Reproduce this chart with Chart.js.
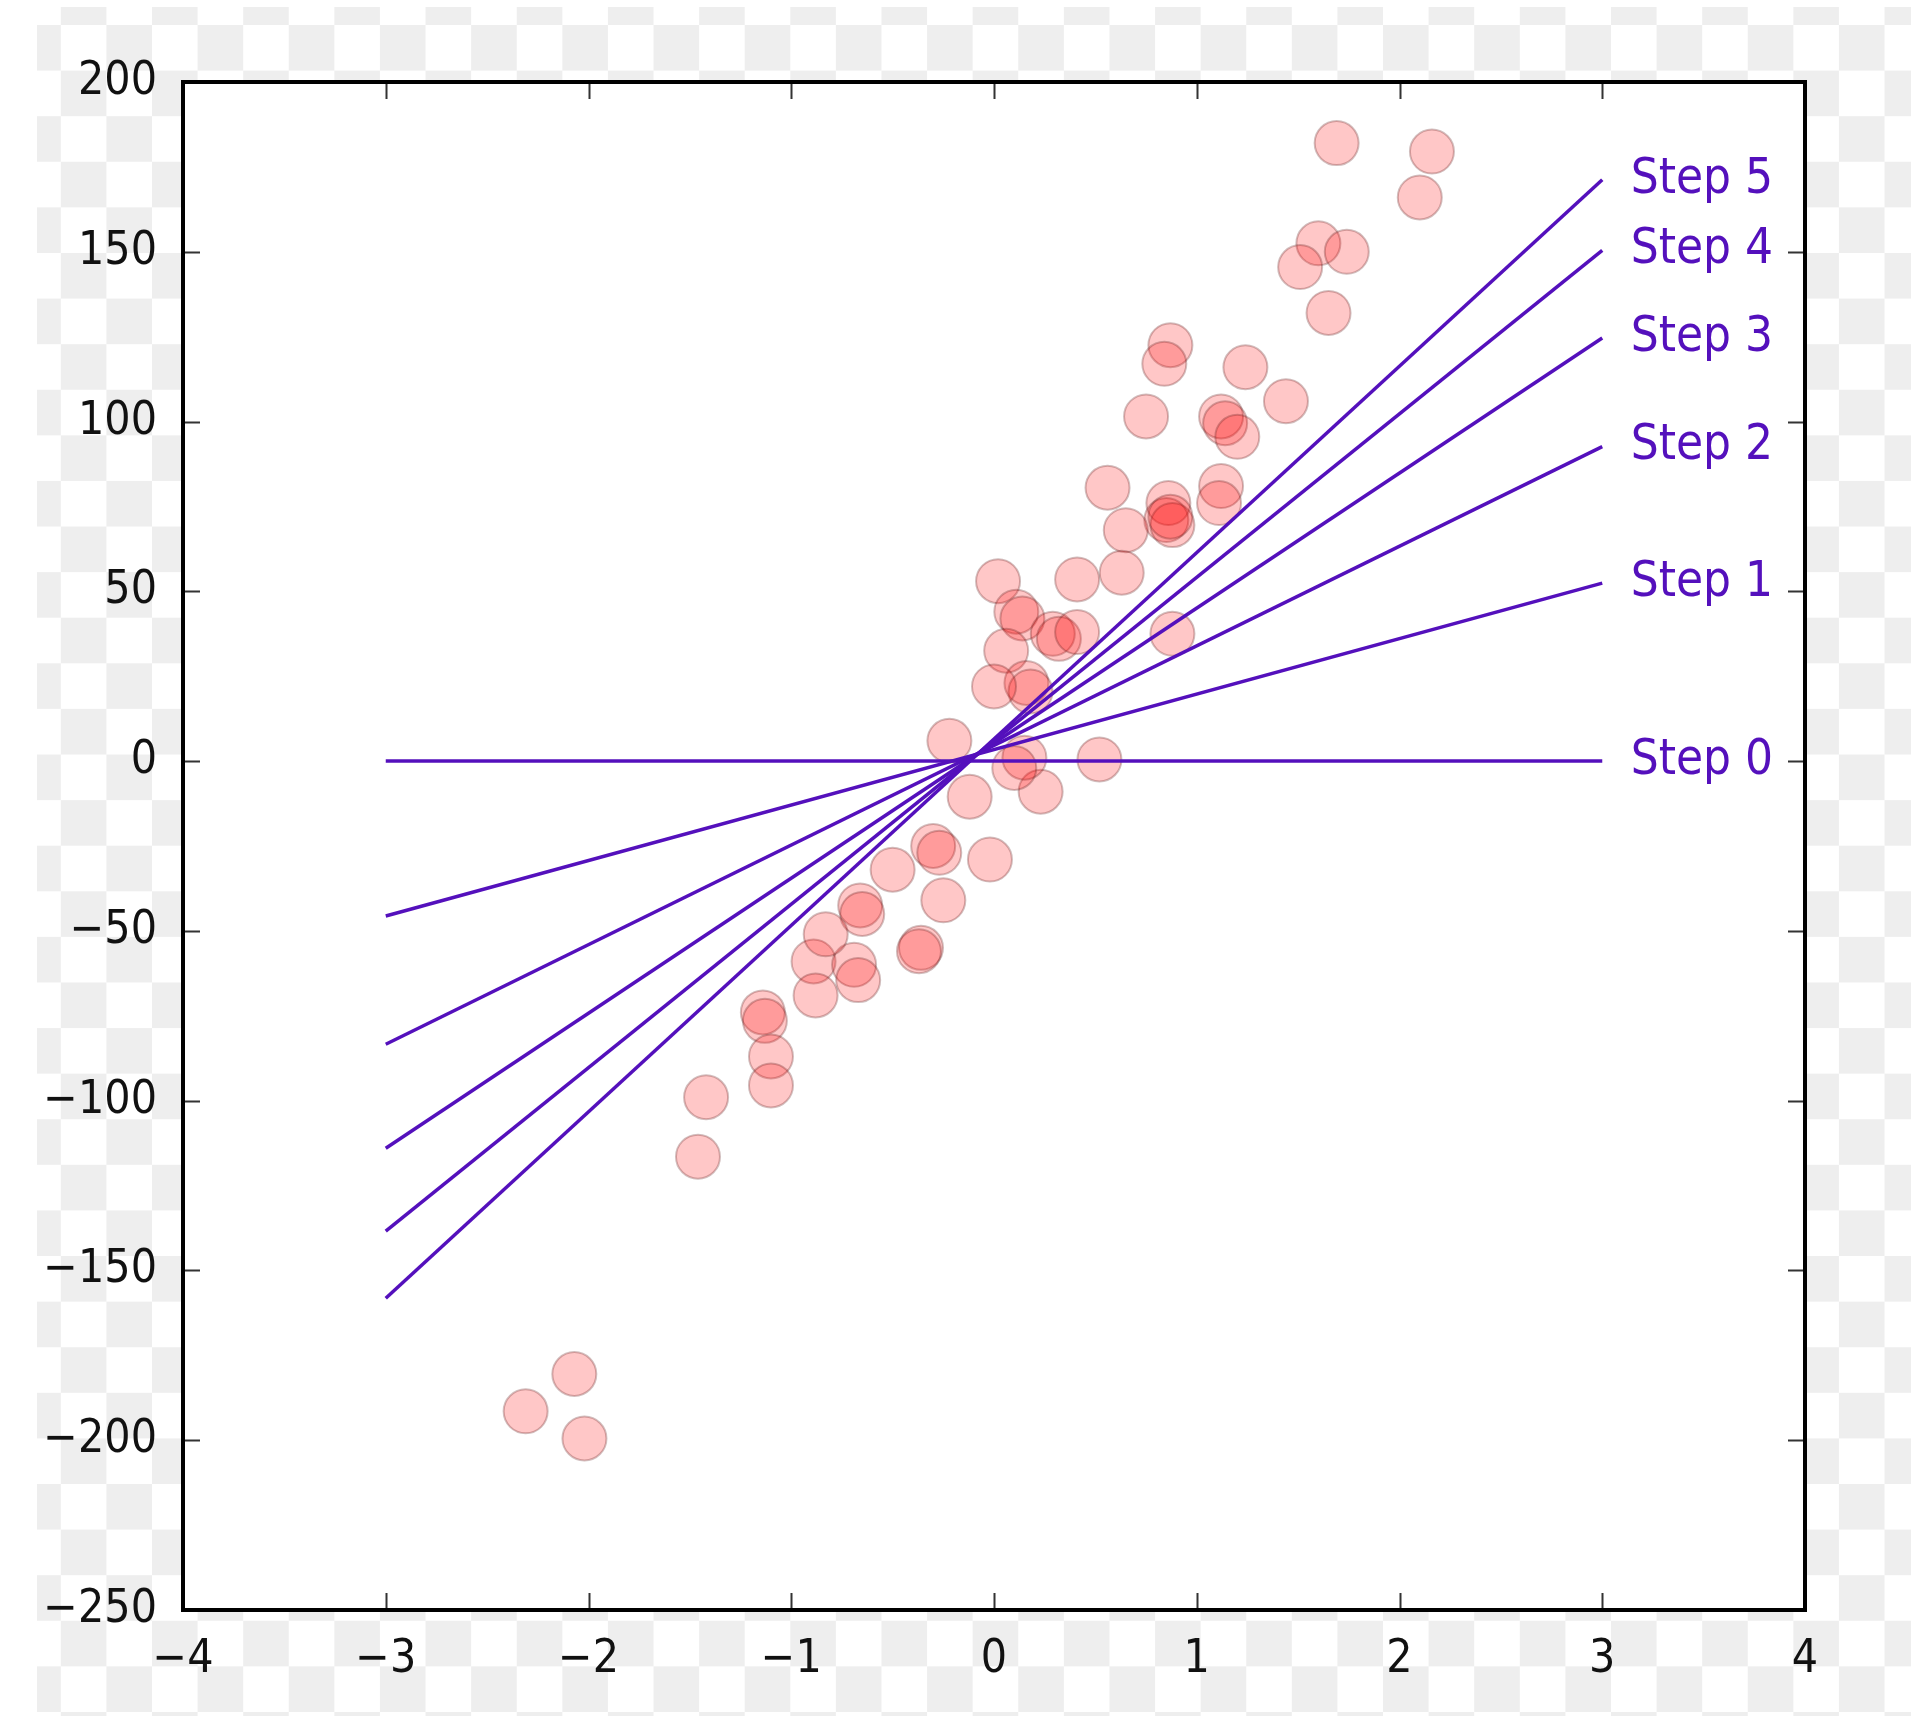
<!DOCTYPE html>
<html>
<head>
<meta charset="utf-8">
<script src="https://cdn.jsdelivr.net/npm/chart.js@4.4.2/dist/chart.umd.min.js"></script>
<style>
  html, body { margin: 0; padding: 0; background: #fff; }
  #wrap { position: relative; width: 1915px; height: 1725px; }
  #checker {
    position: absolute; left: 37px; top: 7px; width: 1874px; height: 1709px;
    background: repeating-conic-gradient(#eeeeee 0 25%, #fff 0 50%) 23.8px 18px / 91.2px 91.2px;
  }
  canvas { position: absolute; left: 0; top: 0; }
</style>
</head>
<body>
<div id="wrap">
  <div id="checker"></div>
  <canvas id="chart" width="1915" height="1725"></canvas>
</div>
<script>
// scatter samples
const pointsX = [1.69, 2.16, 2.10, 1.60, 1.74, 1.51, 1.65, 0.87, 0.84, 1.24,
  0.75, 1.12, 1.14, 1.20, 1.44, 0.56, 1.12, 1.11, 0.86, 0.85,
  0.88, 0.65, 0.02, 0.41, 0.63, 0.11, 0.14, 0.29, 0.32, 0.41,
  0.06, 0.16, 0.18, 0.00, 0.88, -0.22, 0.52, 0.23, -0.12, 0.15,
  -0.30, -0.27, -0.02, -0.25, -0.36, -0.37, -0.66, -0.65, -0.89, -0.69,
  -0.88, -0.67, -1.14, -1.13, -1.10, -1.10, -1.42, -1.46, -2.07, -2.31,
  -2.02, -0.50, -0.83, 0.10, 0.87];
const pointsY = [182, 179.5, 166, 152.5, 150, 145.5, 132, 122.5, 117, 116,
  101.5, 101.5, 99.5, 95.5, 106, 80.5, 81, 76, 76, 71,
  69.5, 68, 53, 53.5, 55.5, 44, 42, 37.5, 36, 38,
  32.5, 23, 20.5, 22, 37.5, 6, 0.5, -9, -10.5, 1,
  -25, -27, -29, -41, -55, -56, -42.5, -45, -59, -60,
  -69, -64.5, -74, -76.5, -87, -95.5, -99, -116.5, -180.5, -191.5,
  -199.5, -32, -51, -2, 72];

// fitted lines, one per step, from x = -3 to x = 3
const stepNames = ['Step 0', 'Step 1', 'Step 2', 'Step 3', 'Step 4', 'Step 5'];
const stepLeftY = [0, -45.6, -83.4, -114, -138.4, -158.2];
const stepRightY = [0, 52.4, 92.6, 124.6, 150.4, 171.2];
const lineX = [-3, 3];
const labelX = 3.14;

const lineColor = '#5410bc';
const tickFont = { family: '"DejaVu Sans Condensed", "DejaVu Sans"', size: 46 };

const framePlugin = {
  id: 'frame',
  beforeDraw(chart) {
    const { ctx, chartArea: a } = chart;
    ctx.save();
    ctx.fillStyle = '#fff';
    ctx.fillRect(a.left, a.top, a.right - a.left, a.bottom - a.top);
    ctx.restore();
  },
  afterDatasetsDraw(chart) {
    const { ctx, chartArea: a, scales: { x, y } } = chart;
    ctx.save();
    ctx.font = '49px "DejaVu Sans Condensed", "DejaVu Sans"';
    ctx.fillStyle = lineColor;
    ctx.textBaseline = 'middle';
    ctx.textAlign = 'left';
    stepNames.forEach((name, i) => {
      ctx.fillText(name, x.getPixelForValue(labelX), y.getPixelForValue(stepRightY[i]));
    });

    ctx.strokeStyle = '#333';
    ctx.lineWidth = 2;
    const tl = 17;
    ctx.beginPath();
    x.ticks.forEach(t => {
      const px = Math.round(x.getPixelForValue(t.value)) + 0.5;
      ctx.moveTo(px, a.bottom); ctx.lineTo(px, a.bottom - tl);
      ctx.moveTo(px, a.top); ctx.lineTo(px, a.top + tl);
    });
    y.ticks.forEach(t => {
      const py = Math.round(y.getPixelForValue(t.value)) + 0.5;
      ctx.moveTo(a.left, py); ctx.lineTo(a.left + tl, py);
      ctx.moveTo(a.right, py); ctx.lineTo(a.right - tl, py);
    });
    ctx.stroke();

    ctx.strokeStyle = '#000';
    ctx.lineWidth = 4;
    ctx.strokeRect(a.left, a.top, a.right - a.left, a.bottom - a.top);
    ctx.restore();
  }
};

const lineSets = stepNames.map((name, i) => ({
  type: 'line',
  label: name,
  data: [{ x: lineX[0], y: stepLeftY[i] }, { x: lineX[1], y: stepRightY[i] }],
  borderColor: lineColor,
  borderWidth: 3.5,
  pointRadius: 0,
  fill: false,
  order: 0
}));

new Chart(document.getElementById('chart'), {
  type: 'scatter',
  data: {
    datasets: [
      ...lineSets,
      {
        type: 'scatter',
        label: 'samples',
        data: pointsX.map((v, i) => ({ x: v, y: pointsY[i] })),
        backgroundColor: 'rgba(255, 0, 0, 0.22)',
        borderColor: 'rgba(90, 20, 20, 0.28)',
        borderWidth: 2,
        pointRadius: 22,
        order: 1
      }
    ]
  },
  options: {
    responsive: false,
    animation: false,
    devicePixelRatio: 1,
    layout: { padding: { left: 0, right: 110, top: 82, bottom: 0 } },
    plugins: { legend: { display: false }, tooltip: { enabled: false } },
    scales: {
      x: {
        type: 'linear',
        min: -4,
        max: 4,
        afterFit: s => { s.height = 115; },
        grid: { display: false },
        border: { display: false },
        ticks: {
          stepSize: 1,
          padding: 14,
          color: '#111',
          font: tickFont,
          maxRotation: 0,
          callback: v => String(v).replace('-', '\u2212')
        }
      },
      y: {
        type: 'linear',
        min: -250,
        max: 200,
        afterFit: s => { s.width = 183; },
        grid: { display: false },
        border: { display: false },
        ticks: {
          stepSize: 50,
          padding: 18,
          color: '#111',
          font: tickFont,
          callback: v => String(v).replace('-', '\u2212')
        }
      }
    }
  },
  plugins: [framePlugin]
});
</script>
</body>
</html>
